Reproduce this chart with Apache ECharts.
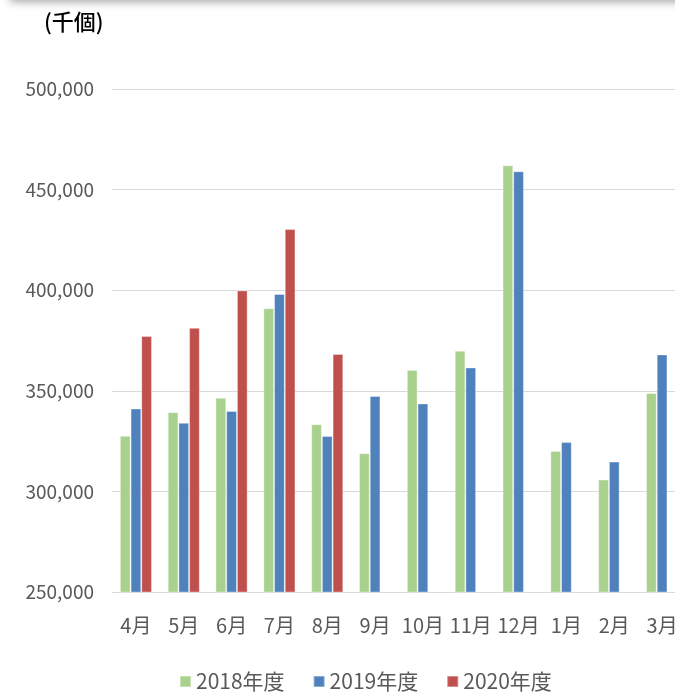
<!DOCTYPE html>
<html>
<head>
<meta charset="utf-8">
<script src="https://cdn.jsdelivr.net/npm/echarts@6/dist/echarts.min.js"></script>
<style>
  html, body { margin: 0; padding: 0; background: #fff; overflow: hidden; }
  #main { width: 700px; height: 692px; }
</style>
</head>
<body>
<div id="main"></div>
<script>
var months = ['4月', '5月', '6月', '7月', '8月', '9月', '10月', '11月', '12月', '1月', '2月', '3月'];
var fy2018 = [327600, 339400, 346500, 391000, 333400, 319000, 360300, 369900, 462100, 320100, 305900, 348900];
var fy2019 = [341200, 334100, 340000, 398100, 327500, 347400, 343700, 361600, 459100, 324500, 314800, 368100];
var fy2020 = [377200, 381300, 399900, 430400, 368300, '-', '-', '-', '-', '-', '-', '-'];

// the plot runs past the right edge of the 675px window, like the original crop
var chartDom = document.getElementById('main');
var myChart = echarts.init(chartDom);
var option;

const fontFamily = '"Noto Sans CJK JP", "Noto Sans", sans-serif';
const textGray = '#595959';
const gridGray = '#d9d9d9';

function barSeries(name, data, color) {
    return {
        name: name,
        type: 'bar',
        data: data,
        barWidth: 10.7,
        barGap: '0%',
        itemStyle: {
            color: color,
            borderColor: 'rgba(255,255,255,0.35)',
            borderWidth: 1
        }
    };
}

option = {
    animation: false,
    backgroundColor: '#fff',
    graphic: [
        {
            type: 'rect',
            shape: { x: 10, y: -12, width: 720, height: 12 },
            style: {
                fill: '#fff',
                shadowBlur: 8,
                shadowOffsetY: 2,
                shadowColor: 'rgba(0,0,0,0.35)'
            }
        },
        {
            type: 'text',
            left: 44,
            top: 11,
            style: {
                text: '(千個)',
                font: '500 22px ' + fontFamily,
                fill: '#000'
            }
        }
    ],
    legend: {
        left: 174,
        top: 666,
        itemWidth: 11,
        itemHeight: 11,
        itemGap: 28,
        icon: 'rect',
        textStyle: { color: textGray, fontSize: 21, fontFamily: fontFamily },
        data: ['2018年度', '2019年度', '2020年度']
    },
    grid: {
        left: 112,
        top: 89,
        width: 574,
        bottom: 100,
        containLabel: false
    },
    xAxis: {
        type: 'category',
        data: months,
        axisLine: { lineStyle: { color: gridGray, width: 1 } },
        axisTick: { show: false },
        axisLabel: {
            color: textGray,
            fontSize: 20,
            fontFamily: fontFamily,
            margin: 23,
            interval: 0
        }
    },
    yAxis: {
        type: 'value',
        min: 250000,
        max: 500000,
        interval: 50000,
        axisLine: { show: false },
        axisTick: { show: false },
        splitLine: { lineStyle: { color: gridGray, width: 1 } },
        axisLabel: {
            color: textGray,
            fontSize: 19,
            fontFamily: fontFamily,
            margin: 18,
            formatter: function (v) {
                return v.toLocaleString('en-US');
            }
        }
    },
    series: [
        barSeries('2018年度', fy2018, '#A9D18E'),
        barSeries('2019年度', fy2019, '#4F81BD'),
        barSeries('2020年度', fy2020, '#C0504D')
    ]
};

option && myChart.setOption(option);
</script>
</body>
</html>
